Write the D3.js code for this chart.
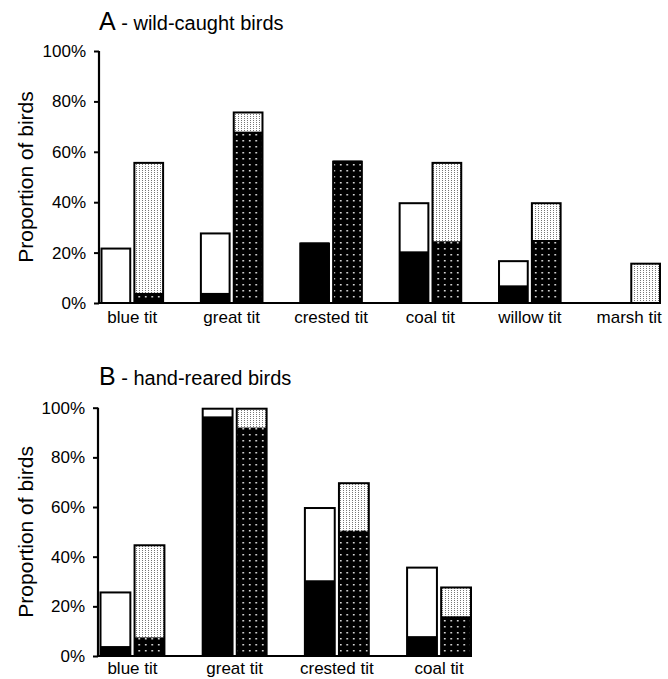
<!DOCTYPE html>
<html>
<head>
<meta charset="utf-8">
<script src="https://cdn.jsdelivr.net/npm/d3@7"></script>
<style>
  body { margin: 0; background: #fff; }
  svg { display: block; font-family: Arial, "Liberation Sans", sans-serif; }
</style>
</head>
<body>
<div id="chart"></div>
<script>
// Panel A - wild-caught birds
const wildSpecies = ["blue tit", "great tit", "crested tit", "coal tit", "willow tit", "marsh tit"];
const wildPlainBlack = [0, 4, 24, 20.5, 7, 0];      // solid black part of first bar
const wildPlainTotal = [22, 28, 24, 40, 17, 0];     // full height of first bar (black + white)
const wildDotDark = [4, 68, 56.5, 24.5, 25, 0];     // dark dotted part of second bar
const wildDotTotal = [56, 76, 56.5, 56, 40, 16];    // full height of second bar

// Panel B - hand-reared birds
const handSpecies = ["blue tit", "great tit", "crested tit", "coal tit"];
const handPlainBlack = [4, 96.5, 30.5, 8];
const handPlainTotal = [26, 100, 60, 36];
const handDotDark = [7.5, 92, 50.5, 16];
const handDotTotal = [45, 100, 70, 28];

const yTicks = [0, 20, 40, 60, 80, 100];

(function() {
    const width = 668;
    const height = 679;

    const svg = d3.select("#chart").append("svg")
        .attr("width", width)
        .attr("height", height);

    const defs = svg.append("defs");

    // black with white dots
    const dark = defs.append("pattern")
        .attr("id", "darkDots")
        .attr("patternUnits", "userSpaceOnUse")
        .attr("width", 6.5)
        .attr("height", 6);
    dark.append("rect").attr("width", 6.5).attr("height", 6).attr("fill", "#000");
    dark.append("rect").attr("x", 2).attr("y", 2).attr("width", 1.5).attr("height", 1.5).attr("fill", "#fff");

    // white with fine grey dots
    const light = defs.append("pattern")
        .attr("id", "lightDots")
        .attr("patternUnits", "userSpaceOnUse")
        .attr("width", 3)
        .attr("height", 2);
    light.append("rect").attr("width", 3).attr("height", 2).attr("fill", "#fff");
    light.append("rect").attr("x", 1).attr("y", 0).attr("width", 1).attr("height", 1).attr("fill", "#777");

    function drawPanel(opts) {
        const species = opts.species;
        const g = svg.append("g");

        const x = d3.scaleBand()
            .domain(species)
            .range([opts.x0 + 1.5, opts.x1])
            .paddingInner(opts.padding)
            .paddingOuter(0);

        const sub = d3.scaleBand()
            .domain([0, 1])
            .range([0, x.bandwidth()])
            .paddingInner(0.065);

        const y = d3.scaleLinear()
            .domain([0, 100])
            .range([opts.yBottom, opts.yTop]);

        const bars = [];
        species.forEach((s, i) => {
            bars.push({ s: s, k: 0, low: opts.plainBlack[i], total: opts.plainTotal[i], lowFill: "#000", highFill: "#fff" });
            bars.push({ s: s, k: 1, low: opts.dotDark[i], total: opts.dotTotal[i], lowFill: "url(#darkDots)", highFill: "url(#lightDots)" });
        });
        const shown = bars.filter(d => d.total > 0);

        const bx = d => x(d.s) + sub(d.k) + 1;
        const bw = sub.bandwidth() - 2;

        // upper segment
        g.append("g")
            .selectAll("rect")
            .data(shown)
            .enter()
            .append("rect")
            .attr("x", bx)
            .attr("width", bw)
            .attr("y", d => y(d.total) + 1)
            .attr("height", d => y(0) - y(d.total) - 1)
            .attr("fill", d => d.highFill);

        // lower segment
        g.append("g")
            .selectAll("rect")
            .data(shown.filter(d => d.low > 0))
            .enter()
            .append("rect")
            .attr("x", bx)
            .attr("width", bw)
            .attr("y", d => y(d.low))
            .attr("height", d => y(0) - y(d.low))
            .attr("fill", d => d.lowFill);

        // outline
        g.append("g")
            .selectAll("rect")
            .data(shown)
            .enter()
            .append("rect")
            .attr("x", bx)
            .attr("width", bw)
            .attr("y", d => y(d.total) + 1)
            .attr("height", d => y(0) - y(d.total) - 1)
            .attr("fill", "none")
            .attr("stroke", "#000")
            .attr("stroke-width", 2);

        // y axis
        const yAxis = g.append("g")
            .attr("transform", "translate(" + opts.x0 + ",0)")
            .call(d3.axisLeft(y).tickValues(yTicks).tickSize(5).tickPadding(8).tickFormat(d => d + "%"));
        yAxis.select(".domain")
            .attr("d", "M0," + (opts.yTop) + "V" + opts.yBottom)
            .attr("stroke-width", 2.2);
        yAxis.selectAll(".tick line").attr("stroke-width", 2);
        yAxis.selectAll(".tick text")
            .attr("font-size", 17)
            .attr("font-family", "Arial, 'Liberation Sans', sans-serif")
            .attr("fill", "#000");

        // baseline
        g.append("line")
            .attr("x1", opts.x0 - 1)
            .attr("x2", opts.x1)
            .attr("y1", y(0))
            .attr("y2", y(0))
            .attr("stroke", "#000")
            .attr("stroke-width", 2.2);

        // category labels
        g.append("g")
            .selectAll("text")
            .data(species)
            .enter()
            .append("text")
            .attr("x", d => x(d) + x.bandwidth() / 2)
            .attr("y", y(0) + opts.labelGap)
            .attr("text-anchor", "middle")
            .attr("font-size", 17)
            .text(d => d);

        // y label
        g.append("text")
            .attr("transform", "translate(33," + ((opts.yTop + opts.yBottom) / 2) + ") rotate(-90)")
            .attr("text-anchor", "middle")
            .attr("font-size", 21)
            .text("Proportion of birds");

        // title
        const title = g.append("text")
            .attr("x", 99)
            .attr("y", opts.titleY);
        title.append("tspan").attr("font-size", 25).text(opts.letter);
        title.append("tspan").attr("font-size", 20).text(" - " + opts.title);
    }

    drawPanel({
        species: wildSpecies,
        plainBlack: wildPlainBlack,
        plainTotal: wildPlainTotal,
        dotDark: wildDotDark,
        dotTotal: wildDotTotal,
        x0: 99, x1: 661, padding: 0.36,
        yTop: 51, yBottom: 303,
        letter: "A", title: "wild-caught birds", titleY: 30, labelGap: 20
    });

    drawPanel({
        species: handSpecies,
        plainBlack: handPlainBlack,
        plainTotal: handPlainTotal,
        dotDark: handDotDark,
        dotTotal: handDotTotal,
        x0: 98, x1: 472, padding: 0.355,
        yTop: 407.7, yBottom: 656,
        letter: "B", title: "hand-reared birds", titleY: 385, labelGap: 18
    });
})();
</script>
</body>
</html>
